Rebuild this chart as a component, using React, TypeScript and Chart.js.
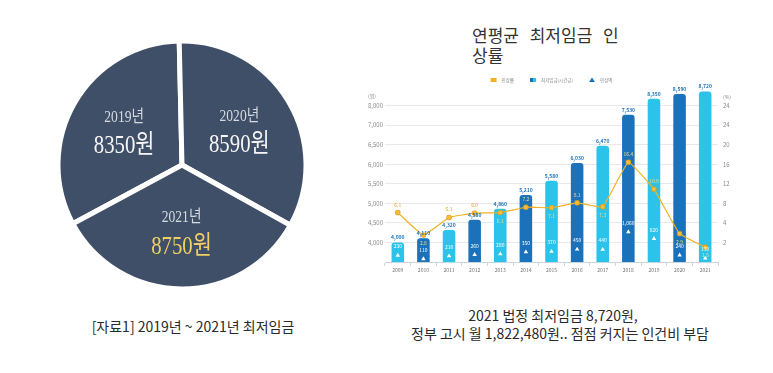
import React, { useEffect, useRef } from 'react';
import { Chart, registerables, LinearScale } from 'chart.js';

Chart.register(...registerables);

// ---------- data ----------
const pieYears = ['2019년', '2020년', '2021년'];
const pieWages = [8350, 8590, 8750];

const years = ['2009', '2010', '2011', '2012', '2013', '2014', '2015', '2016', '2017', '2018', '2019', '2020', '2021'];
const minimumWage = [4000, 4110, 4320, 4580, 4860, 5210, 5580, 6030, 6470, 7530, 8350, 8590, 8720];
const increaseRate = [6.1, 2.75, 5.1, 6.0, 6.1, 7.2, 7.1, 8.1, 7.3, 16.4, 10.9, 2.9, 1.5];
const increaseAmount = [230, 110, 210, 260, 280, 350, 370, 450, 440, 1060, 820, 240, 130];

const wageAxisValues = [3500, 4000, 4500, 5000, 5500, 6000, 6500, 7000, 8000, 9000];
const wageAxisLabels = ['', '4,000', '4,500', '5,000', '5,500', '6,000', '6,500', '7,000', '8,000', ''];
const rateAxisValues = [0, 2, 4, 8, 12, 16, 20, 24, 28, 32];
const rateAxisLabels = ['', '2', '4', '8', '12', '16', '20', '24', '24', ''];
const amountAxisMax = 6200;

const legendLabels = ['인상률', '최저임금(시간급)', '인상액'];

// ---------- styles ----------
const SANS = '"Noto Sans CJK KR", "Noto Sans", sans-serif';
const SERIF = '"Liberation Serif", "Noto Sans CJK KR", serif';
const LIGHT = '#2BC3EA';
const DARK = '#1B72BA';
const GOLD = '#F2B125';
const PIE = '#3F4F67';

// ---------- piecewise (broken) axis: equal spacing between listed values ----------
const BREAKS: Record<string, number[]> = { y: wageAxisValues, yr: rateAxisValues };

class PiecewiseScale extends (LinearScale as any) {
  static id = 'piecewise';
  static defaults = (LinearScale as any).defaults;
  bp(): number[] {
    return BREAKS[(this as any).id];
  }
  determineDataLimits() {
    const bp = this.bp();
    (this as any).min = bp[0];
    (this as any).max = bp[bp.length - 1];
  }
  buildTicks() {
    return this.bp().map((v) => ({ value: v }));
  }
  toDecimal(value: number) {
    const bp = this.bp();
    const n = bp.length - 1;
    if (value <= bp[0]) return ((value - bp[0]) / (bp[1] - bp[0])) / n;
    if (value >= bp[n]) return 1 + ((value - bp[n]) / (bp[n] - bp[n - 1])) / n;
    for (let i = 0; i < n; i++) {
      if (value >= bp[i] && value <= bp[i + 1]) {
        return (i + (value - bp[i]) / (bp[i + 1] - bp[i])) / n;
      }
    }
    return 0;
  }
  getPixelForValue(value: number) {
    return (this as any).getPixelForDecimal(this.toDecimal(value));
  }
  getValueForPixel(pixel: number) {
    const bp = this.bp();
    const n = bp.length - 1;
    const t = (this as any).getDecimalForPixel(pixel) * n;
    const i = Math.max(0, Math.min(n - 1, Math.floor(t)));
    return bp[i] + (t - i) * (bp[i + 1] - bp[i]);
  }
}
Chart.register(PiecewiseScale as any);

const fmtRate = (v: number) => v.toFixed(1);
const fmtNum = (v: number) => v.toLocaleString('en-US');

// ---------- pie text plugin ----------
function drawCondensed(ctx: CanvasRenderingContext2D, text: string, x: number, y: number, font: string, color: string) {
  ctx.save();
  ctx.translate(x, y);
  ctx.scale(0.8, 1);
  ctx.font = font;
  ctx.fillStyle = color;
  ctx.textAlign = 'center';
  ctx.textBaseline = 'middle';
  ctx.fillText(text, 0, 0);
  ctx.restore();
}

const pieTextPlugin = {
  id: 'pieText',
  afterDatasetsDraw(chart: any) {
    const ctx = chart.ctx;
    const meta = chart.getDatasetMeta(0);
    meta.data.forEach((arc: any, i: number) => {
      const p = arc.getProps(['x', 'y', 'startAngle', 'endAngle', 'outerRadius'], true);
      const mid = (p.startAngle + p.endAngle) / 2;
      const cx = p.x + Math.cos(mid) * p.outerRadius * 0.54;
      const cy = p.y + Math.sin(mid) * p.outerRadius * 0.54;
      drawCondensed(ctx, pieYears[i], cx, cy - 14, `17px ${SERIF}`, '#D5DAE2');
      drawCondensed(ctx, `${pieWages[i]}원`, cx, cy + 15, `26px ${SERIF}`, i === 2 ? '#F1CF63' : '#F6F6F6');
    });
  },
};

// ---------- bar chart labels / legend plugin ----------
const barLabelPlugin = {
  id: 'barLabels',
  afterDatasetsDraw(chart: any) {
    const ctx: CanvasRenderingContext2D = chart.ctx;
    const rateMeta = chart.getDatasetMeta(0);
    const amtMeta = chart.getDatasetMeta(1);
    const barMeta = chart.getDatasetMeta(2);
    ctx.save();
    ctx.textAlign = 'center';
    ctx.textBaseline = 'middle';
    barMeta.data.forEach((bar: any, i: number) => {
      const b = bar.getProps(['x', 'y'], true);
      ctx.font = `600 5px ${SANS}`;
      ctx.fillStyle = DARK;
      ctx.fillText(fmtNum(minimumWage[i]), b.x, b.y - 5);

      const tri = amtMeta.data[i].getProps(['x', 'y'], true);
      ctx.font = `5px ${SANS}`;
      ctx.fillStyle = '#FFFFFF';
      ctx.fillText(fmtNum(increaseAmount[i]), tri.x, tri.y - 9);

      const pt = rateMeta.data[i].getProps(['x', 'y'], true);
      const prev = increaseRate[i - 1];
      const next = increaseRate[i + 1];
      const ref = prev !== undefined && next !== undefined ? (prev + next) / 2 : prev !== undefined ? prev : next;
      const above = increaseRate[i] >= ref;
      const ly = above ? pt.y - 8 : pt.y + 8;
      ctx.fillStyle = ly > b.y ? '#F9DC7C' : '#E4A11B';
      ctx.fillText(fmtRate(increaseRate[i]), pt.x, ly);
    });
    ctx.restore();
  },
  afterDraw(chart: any) {
    const ctx: CanvasRenderingContext2D = chart.ctx;
    const area = chart.chartArea;
    ctx.save();
    ctx.textBaseline = 'middle';
    ctx.font = `5px ${SANS}`;
    ctx.fillStyle = '#888';
    ctx.textAlign = 'center';
    ctx.fillText('(원)', area.left - 13, area.top + 10);
    ctx.textAlign = 'left';
    ctx.fillText('(%)', area.right + 5, area.top + 11);

    // legend
    const ly = area.top - 6;
    ctx.font = `4.5px ${SANS}`;
    const box = 6, gapBox = 5, gapItem = 16;
    const widths = legendLabels.map((t) => box + gapBox + ctx.measureText(t).width);
    const total = widths.reduce((a, b) => a + b, 0) + gapItem * (widths.length - 1);
    let x = (area.left + area.right) / 2 - total / 2;
    legendLabels.forEach((t, i) => {
      if (i === 0) {
        ctx.fillStyle = GOLD;
        ctx.fillRect(x, ly - 2, box, 4);
      } else if (i === 1) {
        ctx.fillStyle = DARK;
        ctx.fillRect(x, ly - 2, box / 2, 4);
        ctx.fillStyle = LIGHT;
        ctx.fillRect(x + box / 2, ly - 2, box / 2, 4);
      } else {
        ctx.fillStyle = DARK;
        ctx.beginPath();
        ctx.moveTo(x + box / 2, ly - 2.5);
        ctx.lineTo(x + box, ly + 2);
        ctx.lineTo(x, ly + 2);
        ctx.closePath();
        ctx.fill();
      }
      ctx.fillStyle = '#888';
      ctx.fillText(t, x + box + gapBox, ly);
      x += widths[i] + gapItem;
    });
    ctx.restore();
  },
};

function PieChart() {
  const ref = useRef<HTMLCanvasElement>(null);
  useEffect(() => {
    const chart = new Chart(ref.current as HTMLCanvasElement, {
      type: 'pie',
      data: {
        labels: pieYears,
        datasets: [
          {
            data: pieWages,
            backgroundColor: PIE,
            borderColor: '#FFFFFF',
            borderWidth: 5,
          },
        ],
      },
      options: {
        animation: false,
        responsive: false,
        rotation: 241.7,
        radius: 124,
        events: [],
        plugins: { legend: { display: false }, tooltip: { enabled: false } },
      } as any,
      plugins: [pieTextPlugin as any],
    });
    return () => chart.destroy();
  }, []);
  return (
    <canvas
      ref={ref}
      width={250}
      height={250}
      style={{ position: 'absolute', left: 57, top: 40, width: 250, height: 250 }}
    />
  );
}

function WageChart() {
  const ref = useRef<HTMLCanvasElement>(null);
  useEffect(() => {
    const chart = new Chart(ref.current as HTMLCanvasElement, {
      type: 'bar',
      data: {
        labels: years,
        datasets: [
          {
            type: 'line',
            label: legendLabels[0],
            data: increaseRate,
            yAxisID: 'yr',
            borderColor: GOLD,
            borderWidth: 1.2,
            tension: 0.1,
            pointStyle: 'rectRounded',
            pointRadius: 2.6,
            pointBackgroundColor: '#F5BE3A',
            pointBorderColor: '#E09A10',
            pointBorderWidth: 0.8,
            order: 1,
          },
          {
            type: 'line',
            label: legendLabels[2],
            data: increaseAmount,
            yAxisID: 'ya',
            showLine: false,
            pointStyle: 'triangle',
            pointRadius: 2.6,
            pointBackgroundColor: '#FFFFFF',
            pointBorderColor: '#FFFFFF',
            pointBorderWidth: 0,
            order: 2,
          },
          {
            type: 'bar',
            label: legendLabels[1],
            data: minimumWage,
            yAxisID: 'y',
            backgroundColor: years.map((_, i) => (i % 2 === 0 ? LIGHT : DARK)),
            borderRadius: { topLeft: 3, topRight: 3, bottomLeft: 0, bottomRight: 0 },
            borderSkipped: 'bottom',
            categoryPercentage: 1,
            barPercentage: 0.49,
            order: 3,
          },
        ],
      } as any,
      options: {
        animation: false,
        responsive: false,
        events: [],
        layout: { padding: { top: 26, left: 0, right: 0, bottom: 0 } },
        plugins: { legend: { display: false }, tooltip: { enabled: false } },
        scales: {
          x: {
            type: 'category',
            offset: true,
            grid: { offset: true, drawOnChartArea: false, tickLength: 4, color: '#CBD5DE' },
            border: { color: '#CBD5DE' },
            ticks: { font: { size: 5, family: SANS }, color: '#707070', padding: 1, maxRotation: 0, autoSkip: false },
            afterFit: (s: any) => {
              s.height = 16;
            },
          },
          y: {
            type: 'piecewise',
            position: 'left',
            grid: {
              drawTicks: false,
              color: (c: any) => (c.index >= 1 && c.index <= 8 ? '#E7E9EC' : 'rgba(0,0,0,0)'),
            },
            border: { display: false },
            ticks: {
              autoSkip: false,
              padding: 2,
              color: '#8A8A8A',
              font: { size: 6, family: SANS },
              callback: (_v: any, i: number) => wageAxisLabels[i],
            },
            afterFit: (s: any) => {
              s.width = 30;
            },
          },
          yr: {
            type: 'piecewise',
            position: 'right',
            grid: { drawOnChartArea: false, drawTicks: false },
            border: { display: false },
            ticks: {
              autoSkip: false,
              padding: 5,
              color: '#8A8A8A',
              font: { size: 6, family: SANS },
              callback: (_v: any, i: number) => rateAxisLabels[i],
            },
            afterFit: (s: any) => {
              s.width = 30;
            },
          },
          ya: { type: 'linear', display: false, min: 0, max: amountAxisMax },
        },
      } as any,
      plugins: [barLabelPlugin as any],
    });
    return () => chart.destroy();
  }, []);
  return (
    <canvas
      ref={ref}
      width={393}
      height={218}
      style={{ position: 'absolute', left: 355, top: 60, width: 393, height: 218 }}
    />
  );
}

export default function App() {
  const text: React.CSSProperties = {
    position: 'absolute',
    fontFamily: SANS,
    color: '#2A2A2A',
    whiteSpace: 'nowrap',
    textAlign: 'center',
  };
  return (
    <div style={{ position: 'fixed', left: 0, top: 0, width: 773, height: 373, background: '#FFFFFF', overflow: 'hidden' }}>
      <PieChart />
      <div style={{ ...text, left: 43, width: 300, top: 317, fontSize: 14, lineHeight: '18px' }}>
        [자료1] 2019년 ~ 2021년 최저임금
      </div>
      <div
        style={{
          position: 'absolute',
          left: 472,
          top: 25,
          fontFamily: SANS,
          fontSize: 17,
          lineHeight: '20px',
          color: '#333',
          wordSpacing: 7,
          whiteSpace: 'nowrap',
        }}
      >
        연평균 최저임금 인
        <br />
        상률
      </div>
      <WageChart />
      <div style={{ ...text, left: 403, width: 300, top: 306, fontSize: 14, lineHeight: '18px' }}>
        2021 법정 최저임금 8,720원,
      </div>
      <div style={{ ...text, left: 360, width: 400, top: 324, fontSize: 14, lineHeight: '18px' }}>
        정부 고시 월 1,822,480원.. 점점 커지는 인건비 부담
      </div>
    </div>
  );
}
